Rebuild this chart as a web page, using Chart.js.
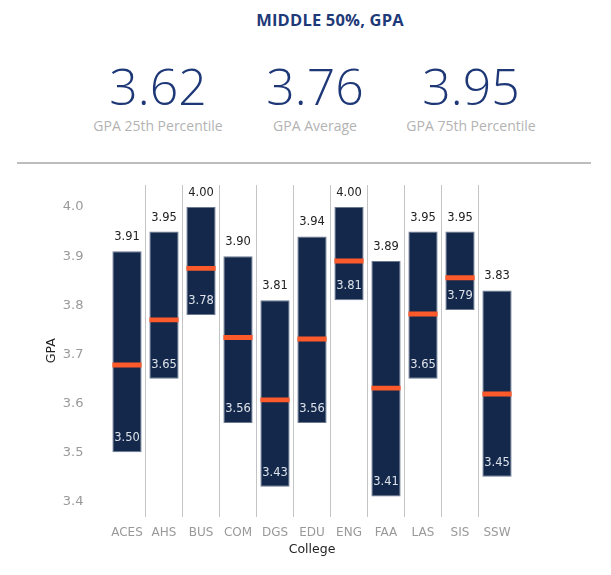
<!DOCTYPE html>
<html>
<head>
<meta charset="utf-8">
<script src="https://cdn.jsdelivr.net/npm/chart.js@4"></script>
<style>
  body { margin: 0; background: #fff; width: 611px; height: 575px; overflow: hidden; position: relative; }
  .title { position: absolute; top: 8px; left: 220px; width: 220px; text-align: center;
           font: bold 16.5px "Open Sans", sans-serif; color: #1f3a78; letter-spacing: 0.2px; }
  .kpi { position: absolute; top: 56px; width: 160px; text-align: center; }
  .kpi .num { font: 300 50px "Open Sans", sans-serif; color: #1e3877; line-height: 60px; }
  .kpi .lab { font: 14px "Open Sans", sans-serif; color: #b3b3b3; margin-top: 0px; }
  .rule { position: absolute; top: 162px; left: 17px; width: 574px; height: 2px; background: #bdbdbd; }
  #wrap { position: absolute; top: 170px; left: 0; }
</style>
</head>
<body>
<div class="title">MIDDLE 50%, GPA</div>
<div id="kpis"></div>
<div class="rule"></div>
<div id="wrap"><canvas id="gpa" width="611" height="405"></canvas></div>
<script>
// summary numbers
var kpiValues = ['3.62', '3.76', '3.95'];
var kpiLabels = ['GPA 25th Percentile', 'GPA Average', 'GPA 75th Percentile'];

// chart data
var colleges = ['ACES','AHS','BUS','COM','DGS','EDU','ENG','FAA','LAS','SIS','SSW'];
var p25 = [3.50, 3.65, 3.78, 3.56, 3.43, 3.56, 3.81, 3.41, 3.65, 3.79, 3.45];
var p75 = [3.91, 3.95, 4.00, 3.90, 3.81, 3.94, 4.00, 3.89, 3.95, 3.95, 3.83];
var avg = [3.678, 3.770, 3.875, 3.734, 3.607, 3.731, 3.890, 3.631, 3.782, 3.856, 3.619];
var yTicks = [3.4, 3.5, 3.6, 3.7, 3.8, 3.9, 4.0];

var kpiCenters = [158, 315, 471];
var html = '';
for (var i = 0; i < kpiValues.length; i++) {
  html += '<div class="kpi" style="left:' + (kpiCenters[i] - 80) + 'px"><div class="num">' +
    kpiValues[i] + '</div><div class="lab">' + kpiLabels[i] + '</div></div>';
}
document.getElementById('kpis').innerHTML = html;

Chart.defaults.font.family = 'DejaVu Sans';

// value labels: top value above the bar, bottom value inside
var barLabels = {
  id: 'barLabels',
  afterDatasetsDraw: function (chart) {
    var ctx = chart.ctx;
    var meta = chart.getDatasetMeta(1);
    ctx.save();
    ctx.font = '11.5px "DejaVu Sans"';
    ctx.textAlign = 'center';
    ctx.textBaseline = 'middle';
    meta.data.forEach(function (bar, i) {
      ctx.fillStyle = '#222';
      ctx.fillText(p75[i].toFixed(2), bar.x, bar.y - 14);
      ctx.fillStyle = '#dde2ea';
      ctx.fillText(p25[i].toFixed(2), bar.x, bar.base - 14);
    });
    ctx.restore();
  }
};

new Chart(document.getElementById('gpa'), {
  type: 'bar',
  data: {
    labels: colleges,
    datasets: [
      {
        label: 'Average',
        data: avg.map(function (v) { return [v - 0.005, v + 0.005]; }),
        backgroundColor: '#fd5a2c',
        borderWidth: 0,
        grouped: false,
        order: 1
      },
      {
        label: 'Middle 50%',
        data: p25.map(function (v, i) { return [v, p75[i]]; }),
        backgroundColor: '#13284b',
        borderColor: '#6a7890',
        borderWidth: 1,
        borderSkipped: false,
        grouped: false,
        order: 2
      }
    ]
  },
  options: {
    responsive: false,
    animation: false,
    categoryPercentage: 1,
    barPercentage: 0.79,
    layout: { padding: { left: 40, right: 95.5, top: 15, bottom: 14 } },
    plugins: { legend: { display: false }, tooltip: { enabled: false } },
    scales: {
      x: {
        grid: {
          offset: true,
          drawTicks: false,
          lineWidth: 1,
          color: function (c) { return c.index > 0 ? '#c4c4c4' : 'rgba(0,0,0,0)'; }
        },
        border: { display: false },
        ticks: { color: '#999', font: { size: 12 }, padding: 9, maxRotation: 0, minRotation: 0, autoSkip: false },
        title: { display: true, text: 'College', color: '#222', font: { size: 12.5 }, padding: { top: -7, bottom: 4 } }
      },
      y: {
        min: 3.369,
        max: 4.045,
        afterFit: function (s) { s.width = 68.5; s.paddingTop = 0; s.paddingBottom = 0; },
        afterBuildTicks: function (s) { s.ticks = yTicks.map(function (v) { return { value: v }; }); },
        grid: { display: false, drawTicks: false },
        border: { display: false },
        ticks: { color: '#999', font: { size: 13 }, padding: 25,
                 callback: function (v) { return v.toFixed(1); } },
        title: { display: true, text: 'GPA', color: '#222', font: { size: 12.5 } }
      }
    }
  },
  plugins: [barLabels]
});
</script>
</body>
</html>
